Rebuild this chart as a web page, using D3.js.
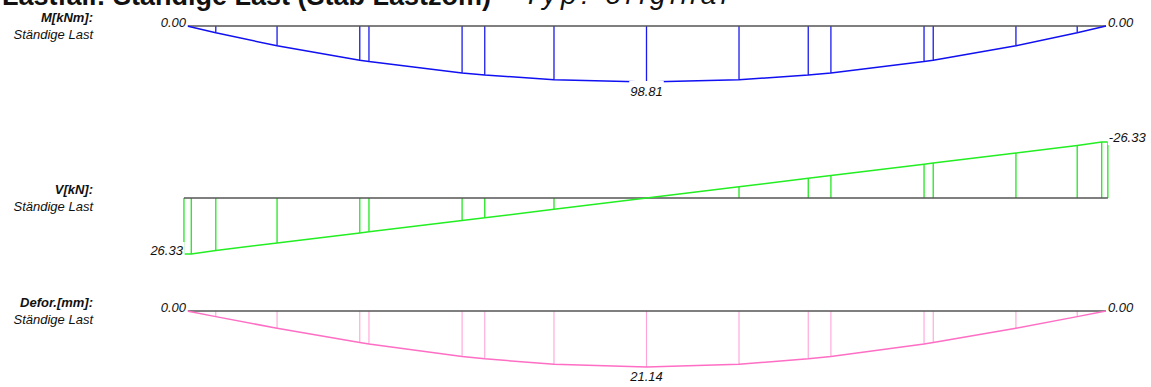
<!DOCTYPE html>
<html>
<head>
<meta charset="utf-8">
<script src="https://cdn.jsdelivr.net/npm/d3@7/dist/d3.min.js"></script>
<style>
  html, body { margin: 0; padding: 0; background: #fff; overflow: hidden; }
  svg { display: block; }
  text { font-family: "Liberation Sans", Arial, sans-serif; }
</style>
</head>
<body>
<svg id="chart" width="1151" height="387"></svg>
<script>
// Beam stations along the 15 m span [m]
const stations = [0, 0.47, 1.47, 2.82, 2.97, 4.49, 4.86, 5.99, 7.5, 9.01, 10.14, 10.51, 12.03, 12.18, 13.53, 14.53, 15];

// Bending moment M [kNm] at each station
const momentValues = [0, 11.99, 34.93, 60.31, 62.74, 82.87, 86.54, 94.77, 98.81, 94.77, 86.54, 82.87, 62.74, 60.31, 34.93, 11.99, 0];

// Shear force V [kN]: stations include the support faces
const shearStations = [-0.05, 0.07, 0.47, 1.47, 2.82, 2.97, 4.49, 4.86, 5.99, 7.5, 9.01, 10.14, 10.51, 12.03, 12.18, 13.53, 14.53, 14.93, 15.03];
const shearValues = [26.33, 26.33, 24.68, 21.17, 16.43, 15.90, 10.57, 9.27, 5.30, 0, -5.30, -9.27, -10.57, -15.90, -16.43, -21.17, -24.68, -26.33, -26.33];

// Deflection [mm] at each station
const deflectionValues = [0, 2.12, 6.51, 11.90, 12.45, 17.16, 18.06, 20.12, 21.14, 20.12, 18.06, 17.16, 12.45, 11.90, 6.51, 2.12, 0];

// Row captions
const rowTitles = ["M[kNm]:", "V[kN]:", "Defor.[mm]:"];
const rowSubtitle = "Ständige Last";
const headerMain = "Lastfall: Ständige Last (Stab Lastzom)";
const headerSep = "–";
const headerType = "Typ: original";

const svg = d3.select("#chart");

const x = d3.scaleLinear().domain([0, 15]).range([187, 1106]);

// Vertical scales: each diagram hangs below (positive) / above (negative) its axis
const yM = d3.scaleLinear().domain([0, 98.81]).range([26, 82]);
const yV = d3.scaleLinear().domain([-26.33, 26.33]).range([142, 254]);
const yD = d3.scaleLinear().domain([0, 21.14]).range([311, 367]);

// Header (mostly above the visible area)
svg.append("text").attr("x", 2).attr("y", 5)
  .attr("font-weight", "bold").attr("font-size", 27).attr("fill", "#111")
  .text(headerMain);
svg.append("text").attr("x", 503).attr("y", 5)
  .attr("font-weight", "bold").attr("font-size", 27).attr("fill", "#111")
  .text(headerSep);
svg.append("text").attr("x", 523).attr("y", 4)
  .attr("font-family", "DejaVu Serif").attr("font-style", "italic").attr("font-size", 28)
  .attr("textLength", 204).attr("lengthAdjust", "spacing").attr("fill", "#111")
  .text(headerType);

function drawDiagram(opts) {
  const g = svg.append("g");
  const { xs, vals, y, color, vColor, vWidth, caption, axisY } = opts;

  // Left captions
  g.append("text")
    .attr("x", 93).attr("y", axisY - 4)
    .attr("text-anchor", "end")
    .attr("font-size", 13).attr("font-weight", "bold").attr("font-style", "italic")
    .attr("fill", "#111")
    .text(caption);
  g.append("text")
    .attr("x", 93).attr("y", axisY + 13)
    .attr("text-anchor", "end")
    .attr("font-size", 13).attr("font-style", "italic")
    .attr("fill", "#111")
    .text(rowSubtitle);

  // Station verticals
  g.selectAll("line.st")
    .data(xs.map((d, i) => [d, vals[i]]).filter(d => d[1] !== 0))
    .join("line")
    .attr("x1", d => x(d[0])).attr("x2", d => x(d[0]))
    .attr("y1", y(0)).attr("y2", d => y(d[1]))
    .attr("stroke", vColor).attr("stroke-width", vWidth);

  // Axis line
  g.append("line")
    .attr("x1", x(xs[0])).attr("x2", x(xs[xs.length - 1]))
    .attr("y1", y(0)).attr("y2", y(0))
    .attr("stroke", "#555").attr("stroke-width", 1.5);

  // Diagram outline
  g.append("path")
    .datum(xs.map((d, i) => [d, vals[i]]))
    .attr("d", d3.line().x(d => x(d[0])).y(d => y(d[1])))
    .attr("fill", "none").attr("stroke", color).attr("stroke-width", 1.5);
}

// Value label on a white plate that masks the lines beneath it
function valueLabel(px, py, anchor, txt, padTop = 1) {
  const t = svg.append("text")
    .attr("x", px).attr("y", py)
    .attr("text-anchor", anchor)
    .attr("font-size", 13).attr("font-style", "italic")
    .attr("fill", "#111")
    .text(txt);
  const bb = t.node().getBBox();
  svg.insert("rect", () => t.node())
    .attr("x", bb.x - 1).attr("y", bb.y - padTop)
    .attr("width", bb.width + 2).attr("height", bb.height + padTop)
    .attr("fill", "#fff");
}

drawDiagram({ xs: stations, vals: momentValues, y: yM, color: "#1010f2", vColor: "#1a1aee", vWidth: 1.3, caption: rowTitles[0], axisY: yM(0) });
drawDiagram({ xs: shearStations, vals: shearValues, y: yV, color: "#22ee22", vColor: "#22e622", vWidth: 1.3, caption: rowTitles[1], axisY: yV(0) });
drawDiagram({ xs: stations, vals: deflectionValues, y: yD, color: "#ff6ec4", vColor: "#ffa3d6", vWidth: 1.1, caption: rowTitles[2], axisY: yD(0) });

// Value labels (plain hyphen for negatives)
const fmt = v => v.toFixed(2);
valueLabel(x(0) - 1, yM(0) + 1, "end", fmt(momentValues[0]));
valueLabel(x(15) + 2, yM(0) + 1, "start", fmt(momentValues[momentValues.length - 1]));
valueLabel(x(7.5), yM(d3.max(momentValues)) + 14, "middle", fmt(d3.max(momentValues)), 3);

valueLabel(x(shearStations[0]) - 1, yV(shearValues[0]) + 1, "end", fmt(shearValues[0]));
valueLabel(x(shearStations[shearStations.length - 1]) + 1, yV(shearValues[shearValues.length - 1]), "start", fmt(shearValues[shearValues.length - 1]));

valueLabel(x(0) - 1, yD(0) + 1, "end", fmt(deflectionValues[0]));
valueLabel(x(15) + 2, yD(0) + 1, "start", fmt(deflectionValues[deflectionValues.length - 1]));
valueLabel(x(7.5), yD(d3.max(deflectionValues)) + 14, "middle", fmt(d3.max(deflectionValues)));
</script>
</body>
</html>
